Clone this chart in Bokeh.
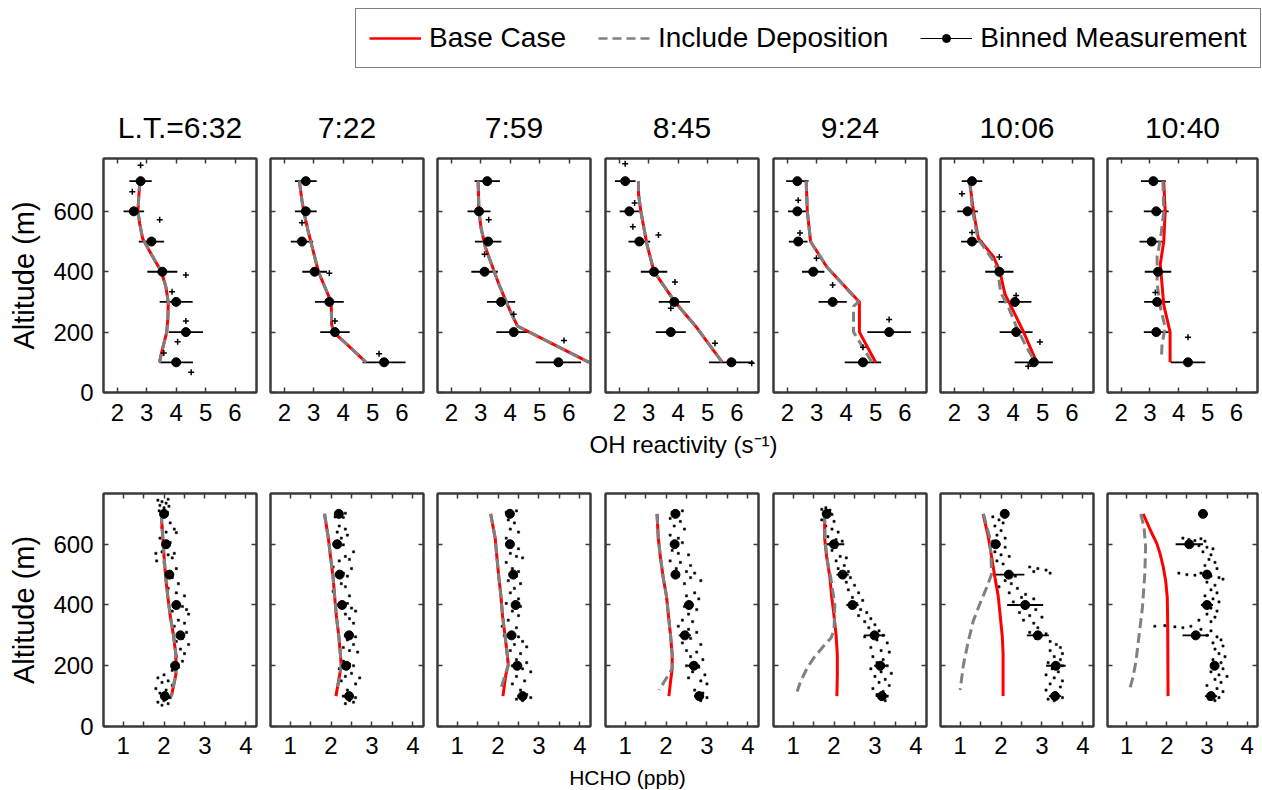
from bokeh.plotting import figure
from bokeh.models import Range1d, LinearAxis, FixedTicker, Legend, LegendItem, CustomLabelingPolicy, Label
from bokeh.layouts import column, row
from bokeh.embed import file_html
from bokeh.resources import INLINE

FONT = "Liberation Sans"
AX = "#3a3a3a"
RED = "#ff0000"
GRAY = "#808080"

# ---------------- data ----------------
times = ["L.T.=6:32", "7:22", "7:59", "8:45", "9:24", "10:06", "10:40"]
bin_alt = [100, 200, 300, 400, 500, 600, 700]

# OH reactivity (s-1), binned measurement mean and half-width, bottom->top
oh_bin = [
    [4.00, 4.33, 4.00, 3.53, 3.16, 2.56, 2.79],
    [5.39, 3.72, 3.53, 3.03, 2.60, 2.73, 2.73],
    [5.64, 4.12, 3.69, 3.13, 3.25, 2.94, 3.22],
    [5.81, 3.75, 3.87, 3.18, 2.68, 2.34, 2.20],
    [4.57, 5.46, 3.54, 2.88, 2.37, 2.34, 2.34],
    [4.70, 4.10, 4.06, 3.53, 2.60, 2.45, 2.60],
    [4.32, 3.22, 3.25, 3.28, 3.06, 3.22, 3.12],
]
oh_err = [
    [0.57, 0.58, 0.56, 0.51, 0.43, 0.35, 0.38],
    [0.73, 0.50, 0.49, 0.42, 0.38, 0.37, 0.37],
    [0.77, 0.59, 0.48, 0.45, 0.45, 0.39, 0.43],
    [0.76, 0.51, 0.53, 0.45, 0.37, 0.33, 0.35],
    [0.62, 0.74, 0.48, 0.38, 0.32, 0.32, 0.38],
    [0.65, 0.56, 0.56, 0.48, 0.37, 0.35, 0.35],
    [0.60, 0.43, 0.45, 0.46, 0.42, 0.43, 0.43],
]
oh_raw = [
    [(2.79, 753), (2.51, 665), (3.44, 572), (4.33, 389), (3.86, 334), (4.33, 237), (4.05, 168), (3.58, 131), (4.51, 67)],
    [(2.60, 562), (3.53, 395), (3.72, 237), (5.22, 128)],
    [(3.27, 572), (3.13, 458), (4.12, 259), (5.83, 172)],
    [(2.20, 758), (2.52, 628), (2.46, 549), (3.33, 522), (3.89, 366), (3.75, 279), (5.25, 163), (6.50, 97)],
    [(2.37, 637), (2.43, 528), (2.99, 445), (3.54, 356), (5.46, 242), (4.57, 150)],
    [(2.26, 658), (2.60, 530), (3.53, 449), (4.10, 321), (4.91, 167), (4.51, 87)],
    [(3.19, 331), (4.32, 183)],
]
oh_base_alt = [
    [700, 650, 600, 560, 510, 450, 400, 350, 300, 250, 200, 150, 100],
    [700, 635, 590, 530, 400, 300, 225, 200, 160, 100],
    [700, 600, 545, 480, 360, 270, 220, 100],
    [700, 660, 600, 490, 400, 300, 215, 100],
    [700, 600, 500, 415, 300, 200, 100],
    [700, 600, 510, 450, 400, 326, 281, 203, 100],
    [700, 600, 500, 425, 290, 200, 100],
]
oh_base_val = [
    [2.77, 2.73, 2.70, 2.76, 2.86, 3.20, 3.50, 3.65, 3.73, 3.72, 3.68, 3.55, 3.43],
    [2.51, 2.60, 2.68, 2.82, 3.16, 3.59, 3.61, 3.67, 4.12, 4.78],
    [2.91, 2.94, 3.01, 3.16, 3.61, 4.00, 4.25, 6.68],
    [2.65, 2.65, 2.73, 2.94, 3.18, 3.89, 4.63, 5.50],
    [2.64, 2.68, 2.79, 3.35, 4.45, 4.45, 5.00],
    [2.52, 2.65, 2.82, 3.33, 3.55, 3.72, 3.95, 4.34, 4.80],
    [3.48, 3.53, 3.48, 3.36, 3.48, 3.70, 3.70],
]
oh_dep_alt = [
    [700, 650, 600, 560, 510, 450, 400, 350, 300, 250, 200, 150, 100],
    [700, 635, 590, 530, 400, 300, 225, 200, 160, 100],
    [700, 600, 545, 480, 360, 270, 220, 100],
    [700, 660, 600, 490, 400, 300, 215, 100],
    [700, 600, 500, 415, 300, 285, 200, 160, 100],
    [700, 600, 510, 440, 400, 330, 280, 220, 160, 100],
    [700, 600, 510, 450, 360, 280, 215, 160, 110],
]
oh_dep_val = [
    [2.77, 2.73, 2.70, 2.76, 2.86, 3.20, 3.50, 3.65, 3.73, 3.72, 3.68, 3.55, 3.43],
    [2.51, 2.60, 2.68, 2.82, 3.16, 3.59, 3.61, 3.67, 4.12, 4.78],
    [2.91, 2.94, 3.01, 3.16, 3.61, 4.00, 4.25, 6.68],
    [2.65, 2.65, 2.73, 2.94, 3.18, 3.89, 4.63, 5.50],
    [2.64, 2.68, 2.79, 3.35, 4.42, 4.25, 4.25, 4.50, 4.88],
    [2.52, 2.62, 2.80, 3.30, 3.48, 3.58, 3.85, 4.10, 4.40, 4.75],
    [3.45, 3.48, 3.37, 3.25, 3.25, 3.37, 3.53, 3.42, 3.40],
]

# HCHO (ppb)
hcho_bin = [
    [2.02, 2.27, 2.40, 2.30, 2.13, 2.05, 2.00],
    [2.44, 2.37, 2.44, 2.27, 2.21, 2.15, 2.19],
    [2.60, 2.47, 2.33, 2.43, 2.37, 2.29, 2.29],
    [2.81, 2.68, 2.46, 2.56, 2.23, 2.21, 2.23],
    [3.17, 3.13, 2.99, 2.45, 2.21, 2.00, 1.82],
    [3.32, 3.34, 2.90, 2.59, 2.19, 1.87, 2.09],
    [3.10, 3.19, 2.72, 3.00, 3.00, 2.56, 2.90],
]
hcho_err = [
    [0.10, 0.10, 0.10, 0.10, 0.10, 0.10, 0.10],
    [0.10, 0.10, 0.10, 0.10, 0.10, 0.10, 0.10],
    [0.10, 0.12, 0.10, 0.10, 0.10, 0.10, 0.10],
    [0.12, 0.15, 0.15, 0.10, 0.10, 0.10, 0.10],
    [0.15, 0.15, 0.26, 0.15, 0.15, 0.25, 0.10],
    [0.15, 0.24, 0.27, 0.44, 0.38, 0.10, 0.00],
    [0.15, 0.10, 0.33, 0.15, 0.10, 0.34, 0.00],
]
hcho_raw = [
    [(1.85, 745), (1.95, 740), (2.05, 735), (2.10, 748), (1.90, 728), (2.00, 720), (2.12, 725), (1.88, 710), (2.08, 705), (1.98, 690),
     (2.15, 670), (2.25, 650), (1.95, 655), (2.05, 640), (2.30, 638), (1.90, 620), (2.15, 605), (1.80, 570), (1.95, 575), (2.10, 565),
     (2.25, 570), (2.20, 555), (1.82, 545), (2.00, 540), (2.30, 520), (2.05, 505), (2.20, 490), (2.35, 470), (2.10, 455), (2.30, 440),
     (2.50, 430), (2.55, 385), (2.45, 395), (2.20, 380), (2.60, 370), (2.35, 350), (2.50, 340), (2.25, 330), (2.55, 310), (2.45, 290),
     (2.30, 280), (2.60, 270), (2.40, 255), (2.50, 240), (2.30, 230), (2.45, 215), (2.35, 195), (2.20, 185), (2.00, 170), (1.85, 160),
     (2.10, 150), (1.95, 145), (2.20, 135), (1.80, 125), (2.05, 120), (1.90, 110), (2.15, 95), (2.00, 85), (1.85, 80), (2.10, 75), (1.95, 70)],
    [(2.15, 705), (2.25, 700), (2.35, 702), (2.10, 690), (2.30, 688), (2.20, 660), (2.35, 650), (2.15, 640), (2.40, 630), (2.25, 620),
     (2.10, 600), (2.30, 598), (2.55, 575), (2.35, 560), (2.45, 550), (2.20, 545), (2.05, 525), (2.50, 520), (2.30, 505), (2.15, 500),
     (2.40, 495), (2.25, 470), (2.35, 460), (2.05, 445), (2.45, 430), (2.20, 400), (2.40, 405), (2.50, 390), (2.60, 380), (2.35, 370),
     (2.45, 355), (2.55, 340), (2.35, 300), (2.50, 305), (2.60, 295), (2.40, 285), (2.55, 270), (2.30, 260), (2.45, 250), (2.65, 245),
     (2.30, 215), (2.45, 205), (2.55, 200), (2.20, 190), (2.50, 175), (2.35, 165), (2.70, 160), (2.25, 150), (2.60, 140), (2.40, 120),
     (2.50, 105), (2.30, 100), (2.60, 95), (2.45, 85), (2.35, 75), (2.55, 80)],
    [(2.20, 705), (2.35, 700), (2.45, 710), (2.25, 680), (2.40, 670), (2.30, 650), (2.50, 640), (2.20, 620), (2.35, 600), (2.25, 595),
     (2.50, 585), (2.30, 570), (2.45, 560), (2.60, 555), (2.20, 540), (2.35, 520), (2.50, 510), (2.30, 500), (2.45, 495), (2.25, 480),
     (2.55, 470), (2.40, 455), (2.30, 440), (2.50, 420), (2.20, 405), (2.40, 400), (2.55, 395), (2.35, 380), (2.50, 365), (2.25, 350),
     (2.10, 330), (2.45, 325), (2.30, 305), (2.15, 300), (2.50, 295), (2.60, 280), (2.40, 270), (2.70, 262), (2.30, 250), (2.55, 240),
     (2.45, 220), (2.70, 210), (2.35, 200), (2.60, 190), (2.80, 180), (2.45, 165), (2.65, 150), (2.35, 140), (2.55, 120), (2.70, 105),
     (2.50, 100), (2.80, 95), (2.60, 85), (2.45, 90)],
    [(2.15, 705), (2.30, 700), (2.40, 710), (2.10, 685), (2.35, 675), (2.20, 660), (2.45, 650), (2.10, 630), (2.30, 620), (2.20, 600),
     (2.40, 605), (2.15, 580), (2.30, 570), (2.55, 565), (2.10, 545), (2.35, 540), (2.60, 530), (2.25, 520), (2.50, 510), (2.70, 505),
     (2.30, 495), (2.60, 490), (2.85, 480), (2.45, 470), (2.70, 440), (2.50, 430), (2.80, 420), (2.60, 405), (2.45, 395), (2.75, 385),
     (2.55, 370), (2.40, 350), (2.65, 345), (2.30, 330), (2.55, 320), (2.75, 310), (2.45, 300), (2.60, 290), (2.40, 275), (2.85, 270),
     (2.50, 250), (2.75, 245), (2.60, 230), (2.90, 220), (2.50, 200), (2.80, 195), (2.65, 180), (2.95, 170), (2.55, 160), (2.85, 150),
     (3.00, 140), (2.70, 120), (2.90, 110), (2.75, 100), (3.00, 95), (2.85, 85)],
    [(1.70, 715), (1.80, 720), (1.90, 712), (1.75, 700), (1.95, 698), (1.85, 690), (1.70, 680), (2.00, 675), (1.80, 660), (1.95, 650),
     (2.10, 640), (1.85, 625), (2.05, 615), (2.20, 610), (1.90, 600), (2.05, 590), (1.95, 580), (2.15, 560), (2.30, 555), (2.05, 545),
     (2.25, 530), (2.10, 520), (2.35, 510), (2.20, 500), (2.40, 490), (2.30, 475), (2.50, 465), (2.35, 450), (2.60, 440), (2.45, 425),
     (2.70, 415), (2.55, 405), (2.40, 395), (2.65, 385), (2.80, 375), (2.60, 365), (2.90, 355), (2.75, 345), (3.00, 335), (2.85, 325),
     (3.10, 315), (2.95, 305), (3.20, 300), (2.75, 295), (3.05, 285), (3.30, 275), (2.90, 260), (3.15, 250), (3.35, 245), (2.95, 230),
     (3.20, 220), (3.05, 210), (3.30, 200), (2.90, 190), (3.15, 180), (3.40, 175), (3.00, 165), (3.25, 155), (3.10, 145), (3.35, 135),
     (2.95, 125), (3.20, 115), (3.05, 105), (3.30, 100), (3.15, 90), (3.25, 85)],
    [(1.80, 690), (1.95, 680), (2.05, 670), (1.85, 660), (2.00, 645), (1.90, 630), (2.10, 620), (1.80, 610), (1.95, 600), (2.10, 590),
     (1.85, 575), (2.00, 565), (2.20, 560), (1.90, 545), (2.05, 535), (2.70, 525), (2.90, 520), (3.10, 515), (2.80, 510), (3.20, 505),
     (2.35, 495), (2.10, 480), (2.25, 470), (1.95, 460), (2.40, 455), (2.20, 440), (2.60, 435), (2.50, 425), (2.80, 420), (2.30, 410),
     (2.60, 390), (2.85, 385), (2.45, 375), (2.70, 365), (3.00, 360), (2.55, 350), (2.80, 340), (2.90, 325), (2.70, 310), (3.10, 305),
     (2.85, 290), (3.20, 280), (3.35, 270), (3.45, 260), (3.20, 250), (3.50, 240), (3.30, 230), (3.45, 220), (3.15, 210), (3.50, 200),
     (3.25, 190), (3.40, 180), (3.10, 170), (3.30, 160), (3.50, 150), (3.20, 140), (3.45, 130), (3.10, 120), (3.35, 110), (3.25, 100),
     (3.50, 95), (3.15, 90), (3.30, 85)],
    [(2.40, 620), (2.55, 615), (2.70, 612), (2.85, 618), (2.95, 610), (2.60, 600), (2.80, 595), (3.00, 590), (3.15, 585), (2.90, 575),
     (3.10, 565), (3.05, 550), (3.20, 540), (2.95, 530), (3.25, 520), (2.30, 505), (2.50, 500), (2.70, 498), (2.85, 505), (3.10, 495),
     (3.30, 490), (3.40, 485), (3.00, 475), (3.20, 465), (3.10, 450), (3.25, 440), (2.95, 430), (3.15, 420), (3.30, 410), (2.90, 400),
     (3.10, 390), (3.25, 380), (3.00, 370), (3.20, 360), (2.80, 350), (3.10, 345), (1.70, 330), (1.95, 332), (2.20, 328), (2.40, 325),
     (2.60, 330), (2.85, 320), (3.10, 315), (3.00, 300), (3.25, 295), (3.35, 285), (3.15, 275), (3.40, 265), (3.20, 255), (3.30, 240),
     (3.45, 230), (3.15, 220), (3.35, 210), (3.25, 200), (3.40, 190), (3.10, 180), (3.30, 170), (3.50, 165), (3.20, 155), (3.35, 145),
     (3.00, 135), (3.25, 125), (3.40, 115), (3.15, 105), (3.30, 95), (3.05, 90), (3.20, 85)],
]
hcho_base_alt = [
    [700, 620, 560, 490, 430, 365, 300, 237, 172, 100],
    [700, 624, 556, 491, 425, 364, 297, 237, 198, 170, 100],
    [700, 620, 560, 490, 430, 364, 300, 231, 203, 170, 100],
    [700, 620, 560, 490, 430, 364, 300, 237, 190, 148, 100],
    [700, 620, 558, 490, 430, 364, 300, 237, 170, 100],
    [700, 624, 558, 491, 430, 364, 297, 240, 170, 100],
    [700, 646, 602, 569, 525, 480, 425, 347, 100],
]
hcho_base_val = [
    [1.93, 1.97, 2.00, 2.04, 2.09, 2.15, 2.23, 2.29, 2.29, 2.18],
    [1.84, 1.93, 1.99, 2.05, 2.09, 2.13, 2.19, 2.23, 2.25, 2.21, 2.12],
    [1.82, 1.93, 1.97, 2.02, 2.07, 2.11, 2.17, 2.23, 2.25, 2.19, 2.12],
    [1.78, 1.81, 1.86, 1.93, 2.01, 2.06, 2.11, 2.15, 2.15, 2.11, 2.07],
    [1.77, 1.77, 1.82, 1.90, 1.94, 2.00, 2.05, 2.08, 2.08, 2.07],
    [1.56, 1.69, 1.77, 1.85, 1.93, 1.98, 2.03, 2.05, 2.05, 2.05],
    [1.41, 1.59, 1.75, 1.83, 1.91, 1.97, 2.01, 2.02, 2.03],
]
hcho_dep_alt = [
    [700, 620, 560, 490, 430, 365, 300, 237, 172, 100],
    [700, 624, 556, 491, 425, 364, 297, 237, 198, 130],
    [700, 620, 560, 490, 430, 364, 300, 231, 203, 117],
    [700, 620, 560, 490, 430, 364, 300, 237, 190, 120],
    [700, 620, 558, 490, 400, 320, 292, 264, 225, 192, 148, 115],
    [700, 624, 570, 502, 458, 403, 347, 281, 203, 120],
    [700, 657, 591, 502, 391, 303, 214, 159, 117],
]
hcho_dep_val = [
    [1.93, 1.97, 2.00, 2.04, 2.09, 2.15, 2.23, 2.29, 2.29, 2.18],
    [1.84, 1.93, 1.99, 2.05, 2.09, 2.13, 2.19, 2.23, 2.25, 2.16],
    [1.82, 1.93, 1.97, 2.02, 2.07, 2.11, 2.17, 2.23, 2.25, 2.05],
    [1.78, 1.81, 1.86, 1.93, 2.01, 2.06, 2.11, 2.15, 2.15, 1.83],
    [1.77, 1.78, 1.82, 1.92, 2.02, 2.00, 1.93, 1.74, 1.50, 1.34, 1.18, 1.10],
    [1.57, 1.72, 1.75, 1.77, 1.65, 1.48, 1.32, 1.20, 1.08, 1.00],
    [1.35, 1.43, 1.47, 1.45, 1.39, 1.31, 1.23, 1.15, 1.06],
]

# ---------------- layout geometry (page pixels) ----------------
PAGE_W = 1262
FW = 153
LEFTS = [103, 270, 437, 605, 773, 940, 1107]
BOUNDS = [0, 263, 430, 597, 765, 933, 1100, 1262]

HIDE = "const a = [...indices]; for (const i of a) indices.unset(i); return indices;"


def style_axis(ax, ticks, minor=None, labels=True, standoff=10):
    ax.ticker = FixedTicker(ticks=ticks, minor_ticks=minor or [])
    ax.major_tick_in = 5
    ax.major_tick_out = 0
    ax.minor_tick_in = 5 if minor else 0
    ax.minor_tick_out = 0
    ax.major_tick_line_color = AX
    ax.minor_tick_line_color = AX
    ax.major_tick_line_width = 1.5
    ax.minor_tick_line_width = 1.5
    ax.axis_line_color = AX
    ax.axis_line_width = 2
    ax.major_label_text_font = FONT
    ax.major_label_text_color = "black"
    if labels:
        ax.major_label_text_font_size = "24px"
        ax.major_label_standoff = standoff
    else:
        ax.major_label_text_font_size = "1px"
        ax.major_label_standoff = 0
        ax.major_label_policy = CustomLabelingPolicy(code=HIDE)


def make_panel(i, top):
    W = BOUNDS[i + 1] - BOUNDS[i]
    bl = LEFTS[i] - BOUNDS[i]
    br = W - FW - bl
    if top:
        bt, fh, bb = 70, 234, 39
        xr, yr = Range1d(1.53, 6.73), Range1d(0, 775)
        xt, xm = [2, 3, 4, 5, 6], None
    else:
        bt, fh, bb = 27, 233, 38
        xr, yr = Range1d(0.52, 4.26), Range1d(0, 767)
        xt, xm = [1, 2, 3, 4], [1.5, 2.5, 3.5]
    p = figure(width=W, height=bt + fh + bb, x_range=xr, y_range=yr,
               toolbar_location=None, output_backend="svg",
               min_border_left=bl, min_border_right=br,
               min_border_top=bt, min_border_bottom=bb,
               title_location="above" if top else None)
    p.xgrid.visible = False
    p.ygrid.visible = False
    p.outline_line_color = AX
    p.outline_line_width = 2
    p.background_fill_color = "white"
    p.border_fill_color = "white"
    p.add_layout(LinearAxis(), "above")
    p.add_layout(LinearAxis(), "right")
    style_axis(p.below[0], xt, xm, labels=True, standoff=11 if top else 10)
    style_axis(p.above[-1], xt, xm, labels=False)
    style_axis(p.left[0], [0, 200, 400, 600], None, labels=(i == 0), standoff=10)
    style_axis(p.right[0], [0, 200, 400, 600], None, labels=False)
    if i == 0:
        ax = p.left[0]
        ax.axis_label = "Altitude (m)"
        ax.axis_label_text_font = FONT
        ax.axis_label_text_font_size = "29px"
        ax.axis_label_text_font_style = "normal"
        ax.axis_label_text_color = "black"
        ax.axis_label_standoff = 10
    if top:
        p.title.text = times[i]
        p.title.text_font = FONT
        p.title.text_font_size = "30px"
        p.title.text_font_style = "normal"
        p.title.text_color = "black"
        p.title.align = "center"
        p.title.standoff = 22
    return p


def label_strip(height, text, cx, cy_from_bottom, size):
    s = figure(width=PAGE_W, height=height, x_range=Range1d(0, PAGE_W), y_range=Range1d(0, height),
               toolbar_location=None, output_backend="svg", title_location=None,
               x_axis_location=None, y_axis_location=None, min_border=0)
    s.xgrid.visible = False
    s.ygrid.visible = False
    s.outline_line_color = None
    s.add_layout(Label(x=cx, y=cy_from_bottom, x_units="screen", y_units="screen", text=text,
                       text_align="center", text_baseline="middle",
                       text_font=FONT, text_font_size=size, text_color="black"))
    return s


top_figs, bot_figs = [], []
for i in range(7):
    # ---- OH reactivity panel
    p = make_panel(i, True)
    b, e = oh_bin[i], oh_err[i]
    p.segment(x0=[v - d for v, d in zip(b, e)], x1=[v + d for v, d in zip(b, e)],
              y0=bin_alt, y1=bin_alt, line_color="black", line_width=1.8)
    p.line(oh_base_val[i], oh_base_alt[i], line_color=RED, line_width=3)
    p.line(oh_dep_val[i], oh_dep_alt[i], line_color=GRAY, line_width=3, line_dash="10 5")
    rx = [q[0] for q in oh_raw[i]]
    ry = [q[1] for q in oh_raw[i]]
    p.scatter(rx, ry, marker="cross", size=6, line_color="black", line_width=1.5)
    p.scatter(b, bin_alt, marker="circle", size=9, fill_color="black", line_color="black")
    top_figs.append(p)

    # ---- HCHO panel
    q = make_panel(i, False)
    hx = [t[0] for t in hcho_raw[i]]
    hy = [t[1] for t in hcho_raw[i]]
    q.scatter(hx, hy, marker="square", size=2.2, fill_color="black", line_color="black", line_width=0.5)
    b, e = hcho_bin[i], hcho_err[i]
    q.segment(x0=[v - d for v, d in zip(b, e)], x1=[v + d for v, d in zip(b, e)],
              y0=bin_alt, y1=bin_alt, line_color="black", line_width=1.8)
    q.line(hcho_base_val[i], hcho_base_alt[i], line_color=RED, line_width=3)
    q.line(hcho_dep_val[i], hcho_dep_alt[i], line_color=GRAY, line_width=3, line_dash="10 5")
    q.scatter(b, bin_alt, marker="circle", size=9, fill_color="black", line_color="black")
    bot_figs.append(q)

# ---------------- legend strip ----------------
lf = figure(width=PAGE_W, height=88, x_range=Range1d(0, 1), y_range=Range1d(0, 1),
            toolbar_location=None, output_backend="svg", title_location=None,
            x_axis_location=None, y_axis_location=None, min_border=0)
lf.xgrid.visible = False
lf.ygrid.visible = False
lf.outline_line_color = None
# off-range placeholder points: only their legend glyphs are seen
r1 = lf.line([5, 6], [5, 6], line_color=RED, line_width=2.5)
r2 = lf.line([5, 6], [5, 6], line_color=GRAY, line_width=2.5, line_dash="9 5")
r3a = lf.line([5, 6], [5, 6], line_color="black", line_width=1.2)
r3b = lf.scatter([5, 6], [5, 6], marker="circle", size=6, fill_color="black", line_color="black")
leg = Legend(items=[LegendItem(label="Base Case", renderers=[r1]),
                    LegendItem(label="Include Deposition", renderers=[r2]),
                    LegendItem(label="Binned Measurement", renderers=[r3a, r3b])],
             orientation="horizontal", location=(355, 20), margin=0,
             glyph_width=52, glyph_height=20, label_standoff=8, spacing=32, padding=13,
             label_text_font=FONT, label_text_font_size="28px", label_text_color="black",
             border_line_color="black", border_line_width=1.2,
             background_fill_color="white", background_fill_alpha=1.0)
lf.add_layout(leg)

# strips holding the shared x-axis titles (they span more than one panel)
oh_strip = label_strip(35, "OH reactivity (s\u207b\u00b9)", 683, 22, "24px")
hcho_strip = label_strip(26, "HCHO (ppb)", 627, 13, "21px")

layout = column(lf, row(*top_figs), oh_strip, row(*bot_figs), hcho_strip)
open("out.html", "w").write(file_html(layout, INLINE))
